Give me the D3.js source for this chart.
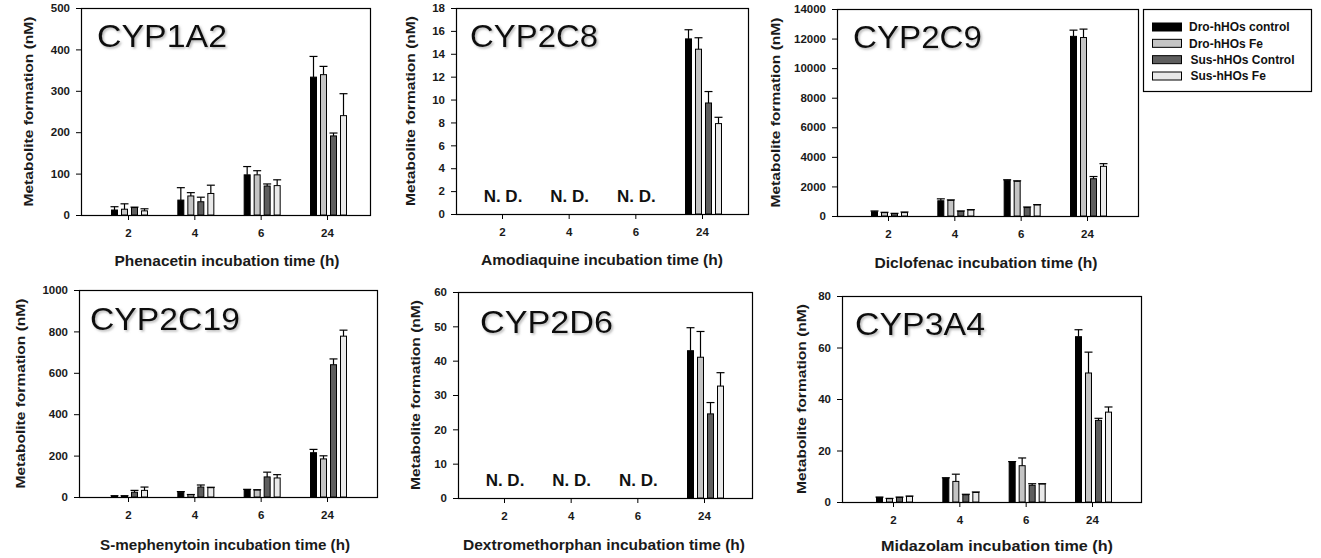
<!DOCTYPE html>
<html>
<head>
<meta charset="utf-8">
<script src="https://cdn.jsdelivr.net/npm/d3@7"></script>
<style>
  html, body { margin: 0; padding: 0; background: #ffffff; }
  svg { display: block; }
  text { font-family: "Liberation Sans", Arial, sans-serif; }
</style>
</head>
<body>
<svg id="chart" width="1321" height="558"></svg>
<script>
// ---------------- DATA ----------------
const timeLabels = ["2", "4", "6", "24"];
const seriesNames = ["Dro-hHOs control", "Dro-hHOs Fe", "Sus-hHOs Control", "Sus-hHOs Fe"];
const seriesColors = ["#000000", "#c4c4c4", "#5e5e5e", "#e9e9e9"];

const enzymeNames = ["CYP1A2", "CYP2C8", "CYP2C9", "CYP2C19", "CYP2D6", "CYP3A4"];
const substrateTitles = [
  "Phenacetin incubation time (h)",
  "Amodiaquine incubation time (h)",
  "Diclofenac incubation time (h)",
  "S-mephenytoin incubation time (h)",
  "Dextromethorphan incubation time (h)",
  "Midazolam incubation time (h)"
];
const yAxisTitle = "Metabolite formation (nM)";
const ndLabel = "N. D.";

// y tick values per panel
const ticksCYP1A2 = [0, 100, 200, 300, 400, 500];
const ticksCYP2C8 = [0, 2, 4, 6, 8, 10, 12, 14, 16, 18];
const ticksCYP2C9 = [0, 2000, 4000, 6000, 8000, 10000, 12000, 14000];
const ticksCYP2C19 = [0, 200, 400, 600, 800, 1000];
const ticksCYP2D6 = [0, 10, 20, 30, 40, 50, 60];
const ticksCYP3A4 = [0, 20, 40, 60, 80];

// means: one row per series (control, Fe, Sus control, Sus Fe), one value per time point
const meanCYP1A2 = [[12, 36, 97, 333], [14, 46, 97, 339], [18, 32, 70, 191], [10, 52, 71, 240]];
const errCYP1A2  = [[8, 30, 20, 50],   [13, 8, 10, 20],   [1, 11, 5, 7],     [5, 20, 14, 53]];

const meanCYP2C8 = [[null, null, null, 15.3], [null, null, null, 14.4], [null, null, null, 9.7], [null, null, null, 7.9]];
const errCYP2C8  = [[null, null, null, 0.8],  [null, null, null, 1.0],  [null, null, null, 1.0], [null, null, null, 0.55]];

const meanCYP2C9 = [[290, 1030, 2420, 12150], [230, 1060, 2350, 12070], [160, 320, 570, 2520], [230, 410, 750, 3360]];
const errCYP2C9  = [[50, 130, 30, 420],       [20, 30, 30, 570],        [20, 20, 40, 150],     [40, 20, 20, 180]];

const meanCYP2C19 = [[5, 23, 36, 214], [5, 11, 34, 184], [23, 48, 97, 639], [32, 45, 92, 777]];
const errCYP2C19  = [[1, 3, 1, 16],    [1, 1, 1, 15],    [9, 10, 23, 28],   [16, 2, 16, 29]];

const meanCYP2D6 = [[null, null, null, 42.9], [null, null, null, 41.0], [null, null, null, 24.5], [null, null, null, 32.6]];
const errCYP2D6  = [[null, null, null, 6.7],  [null, null, null, 7.5],  [null, null, null, 3.3],  [null, null, null, 3.9]];

const meanCYP3A4 = [[1.8, 9.3, 15.6, 64.2], [1.3, 8.0, 14.1, 50.1], [1.8, 2.8, 6.5, 31.7], [2.2, 3.7, 7.0, 34.9]];
const errCYP3A4  = [[0.1, 0.1, 0.1, 2.7],   [0.1, 2.8, 3.0, 8.1],   [0.1, 0.2, 0.6, 0.8],   [0.1, 0.2, 0.1, 2.0]];

// ---------------- LAYOUT ----------------
const panelLayout = [
  {x0: 81,  y0: 8,   x1: 370,  y1: 215, c0: 128, c1: 327,  tX: 97,  tY: 47,  tW: 130, yTX: 28,  xTY: 266, xTC: 227, xTW: 225},
  {x0: 456, y0: 8,   x1: 748,  y1: 214, c0: 502, c1: 702,  tX: 470, tY: 47,  tW: 128, yTX: 410, xTY: 265, xTC: 602, xTW: 242},
  {x0: 837, y0: 9,   x1: 1138, y1: 216, c0: 888, c1: 1087, tX: 853, tY: 48,  tW: 129, yTX: 775, xTY: 268, xTC: 986, xTW: 223},
  {x0: 79,  y0: 290, x1: 377,  y1: 497, c0: 128, c1: 327,  tX: 90,  tY: 330, tW: 150, yTX: 20,  xTY: 550, xTC: 225, xTW: 250},
  {x0: 458, y0: 292, x1: 752,  y1: 498, c0: 504, c1: 704,  tX: 480, tY: 333, tW: 133, yTX: 415, xTY: 550, xTC: 604, xTW: 282},
  {x0: 842, y0: 296, x1: 1141, y1: 502, c0: 893, c1: 1092, tX: 855, tY: 335, tW: 130, yTX: 801, xTY: 551, xTC: 997, xTW: 232}
];

const tickSets = [ticksCYP1A2, ticksCYP2C8, ticksCYP2C9, ticksCYP2C19, ticksCYP2D6, ticksCYP3A4];
const meanSets = [meanCYP1A2, meanCYP2C8, meanCYP2C9, meanCYP2C19, meanCYP2D6, meanCYP3A4];
const errSets  = [errCYP1A2, errCYP2C8, errCYP2C9, errCYP2C19, errCYP2D6, errCYP3A4];

const svg = d3.select("#chart");

const defs = svg.append("defs");
const flt = defs.append("filter").attr("id", "shadow").attr("x", "-10%").attr("y", "-20%").attr("width", "130%").attr("height", "150%");
flt.append("feDropShadow").attr("dx", 1.5).attr("dy", 1.5).attr("stdDeviation", 1.2)
  .attr("flood-color", "#777").attr("flood-opacity", 0.55);

const inGroup = d3.scaleBand().domain(d3.range(seriesNames.length)).range([-17, 20]).paddingInner(0.3).paddingOuter(0);

panelLayout.forEach((L, pi) => {
  const ticks = tickSets[pi];
  const means = meanSets[pi];
  const errs = errSets[pi];
  const g = svg.append("g");

  const y = d3.scaleLinear().domain([0, d3.max(ticks)]).range([L.y1, L.y0]);
  const x = d3.scalePoint().domain(timeLabels).range([L.c0, L.c1]);

  // y axis
  const yAxis = d3.axisLeft(y).tickValues(ticks).tickSize(5).tickPadding(6).tickFormat(d3.format("d"));
  const ya = g.append("g").attr("transform", `translate(${L.x0},0)`).call(yAxis);
  ya.select(".domain").remove();
  ya.selectAll("text").attr("font-size", "11.5px").attr("font-weight", "bold").attr("fill", "#1a1a1a")
    .attr("font-family", "Liberation Sans, Arial, sans-serif");

  // x axis
  const xAxis = d3.axisBottom(x).tickSize(5).tickPadding(9);
  const xa = g.append("g").attr("transform", `translate(0,${L.y1})`).call(xAxis);
  xa.select(".domain").remove();
  xa.selectAll("text").attr("font-size", "11.5px").attr("font-weight", "bold").attr("fill", "#1a1a1a")
    .attr("font-family", "Liberation Sans, Arial, sans-serif");

  // frame
  g.append("rect").attr("x", L.x0 + 0.5).attr("y", L.y0 + 0.5)
    .attr("width", L.x1 - L.x0).attr("height", L.y1 - L.y0)
    .attr("fill", "none").attr("stroke", "#000").attr("stroke-width", 1.2);

  // bars
  const records = [];
  means.forEach((row, si) => row.forEach((v, ti) => {
    if (v !== null) records.push({si, t: timeLabels[ti], v, e: errs[si][ti]});
  }));

  const bw = inGroup.bandwidth();
  const barG = g.append("g");
  barG.selectAll("rect.bar").data(records).join("rect")
    .attr("class", "bar")
    .attr("x", d => x(d.t) + inGroup(d.si) + 0.5)
    .attr("y", d => y(d.v))
    .attr("width", bw - 1)
    .attr("height", d => y(0) - y(d.v))
    .attr("fill", d => seriesColors[d.si])
    .attr("stroke", "#000").attr("stroke-width", 1);

  // error bars (upper only)
  const eg = g.append("g").attr("stroke", "#000").attr("stroke-width", 1.2);
  eg.selectAll("line.ev").data(records).join("line")
    .attr("x1", d => x(d.t) + inGroup(d.si) + bw / 2)
    .attr("x2", d => x(d.t) + inGroup(d.si) + bw / 2)
    .attr("y1", d => y(d.v))
    .attr("y2", d => y(d.v + d.e));
  eg.selectAll("line.ec").data(records).join("line")
    .attr("x1", d => x(d.t) + inGroup(d.si) - 0.5)
    .attr("x2", d => x(d.t) + inGroup(d.si) + bw + 0.5)
    .attr("y1", d => y(d.v + d.e))
    .attr("y2", d => y(d.v + d.e));

  // N.D. labels for time points without data
  timeLabels.forEach((t, ti) => {
    if (means.every(row => row[ti] === null)) {
      g.append("text").attr("x", x(t) + 1).attr("y", L.y1 - 12.5)
        .attr("text-anchor", "middle").attr("font-size", "17px").attr("font-weight", "bold")
        .attr("fill", "#111").text(ndLabel);
    }
  });

  // panel title
  g.append("text").attr("x", L.tX).attr("y", L.tY)
    .attr("font-family", "Open Sans, sans-serif").attr("font-size", "31px")
    .attr("fill", "#111").attr("textLength", L.tW).attr("lengthAdjust", "spacingAndGlyphs")
    .attr("filter", "url(#shadow)")
    .text(enzymeNames[pi]);

  // y axis title
  const cy = (L.y0 + L.y1) / 2;
  g.append("text").attr("transform", `translate(${L.yTX + 5},${cy}) rotate(-90)`)
    .attr("text-anchor", "middle").attr("font-size", "13.5px").attr("font-weight", "bold")
    .attr("fill", "#1a1a1a").attr("textLength", 190).attr("lengthAdjust", "spacingAndGlyphs")
    .text(yAxisTitle);

  // x axis title
  g.append("text").attr("x", L.xTC).attr("y", L.xTY)
    .attr("text-anchor", "middle").attr("font-size", "14.5px").attr("font-weight", "bold")
    .attr("fill", "#1a1a1a").attr("textLength", L.xTW).attr("lengthAdjust", "spacingAndGlyphs")
    .text(substrateTitles[pi]);
});

// ---------------- LEGEND ----------------
const lg = svg.append("g");
lg.append("rect").attr("x", 1143.5).attr("y", 9.5).attr("width", 168).attr("height", 82)
  .attr("fill", "#fff").attr("stroke", "#000").attr("stroke-width", 1.2);
const legendY = d3.scalePoint().domain(d3.range(seriesNames.length)).range([27, 76]);
seriesNames.forEach((name, i) => {
  lg.append("rect").attr("x", 1152.5).attr("y", legendY(i) - 4).attr("width", 29).attr("height", 8)
    .attr("fill", seriesColors[i]).attr("stroke", "#000").attr("stroke-width", 1);
  lg.append("text").attr("x", i < 2 ? 1189 : 1190.5).attr("y", legendY(i)).attr("dy", "0.36em")
    .attr("font-size", "12px").attr("font-weight", "bold").attr("fill", "#111")
    .text(name);
});
</script>
</body>
</html>
